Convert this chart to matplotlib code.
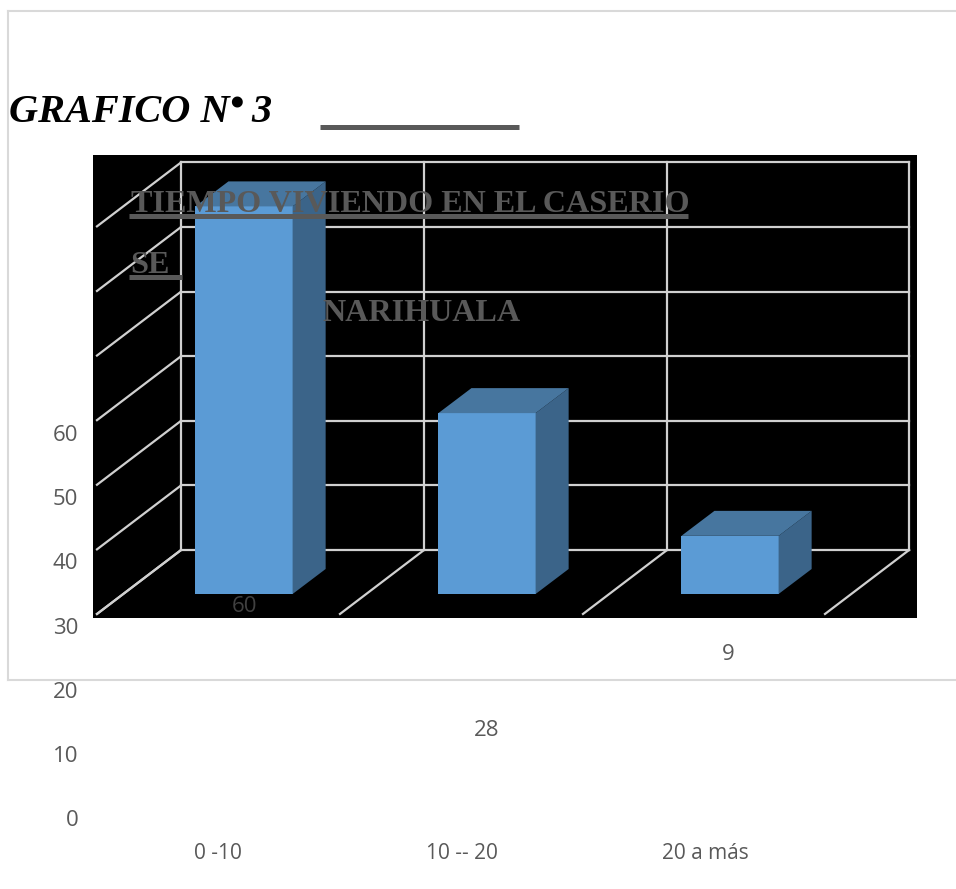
"""Bar chart with a drawn 3D look: time living in the village, on a black plot panel."""
import matplotlib
matplotlib.use("Agg")
import matplotlib.pyplot as plt
from matplotlib.lines import Line2D
from matplotlib.patches import Polygon

WIDTH, HEIGHT = 956, 889

categories = ["0 -10", "10 -- 20", "20 a más"]
values = [60, 28, 9]
y_ticks = [0, 10, 20, 30, 40, 50, 60]
# data labels sit well away from their bars
label_x = [0.107, 1.105, 2.095]
label_y = [33.0, 13.7, 25.5]

FRONT = "#5b9bd5"
SIDE = "#3b6489"
TOP = "#47769f"
GRID = "#d0d0d0"
TEXT_GREY = "#595959"
HEAD_GREY = "#595959"
BORDER = "#d9d9d9"

BAR_HALF = 0.2
BAR_DX, BAR_DY = 0.136, 3.87     # bar depth in (category, value) units
WALL_DX, WALL_DY = 0.346, 9.9    # side wall depth
WALL_X = [-0.259, 0.741, 1.741, 2.737]
WALL_BASE = 6.81                 # back wall floor above the bar floor


def px_rect(x0, y0, x1, y1):
    return [x0 / WIDTH, 1 - y1 / HEIGHT, (x1 - x0) / WIDTH, (y1 - y0) / HEIGHT]


def fx(x):
    return x / WIDTH


def fy(y):
    return 1 - y / HEIGHT


def heading(x, y, s, **kw):
    fig.text(fx(x), fy(y), s, family="Liberation Serif", weight="bold", va="baseline", **kw)


def rule(x0, x1, y):
    fig.add_artist(Line2D([fx(x0), fx(x1)], [fy(y), fy(y)], color=HEAD_GREY, lw=3.6,
                          solid_capstyle="butt", zorder=4))


fig = plt.figure(figsize=(WIDTH / 100, HEIGHT / 100), dpi=100, facecolor="white")

# black panel with the walls and bars
ax = fig.add_axes(px_rect(93, 155, 917, 618), facecolor="black")
ax.set_xlim((93 - 244) / 243, (917 - 244) / 243)
ax.set_ylim((594 - 618) / 6.46, (594 - 155) / 6.46)
ax.set_xticks([])
ax.set_yticks([])
for s in ax.spines.values():
    s.set_visible(False)

for t in y_ticks:
    y = t + WALL_BASE
    ax.plot([WALL_X[0], WALL_X[-1]], [y, y], color=GRID, lw=1.6, zorder=1)
    ax.plot([WALL_X[0] - WALL_DX, WALL_X[0]], [y - WALL_DY, y], color=GRID, lw=1.6, zorder=1)
for x in WALL_X:
    ax.plot([x, x], [WALL_BASE, y_ticks[-1] + WALL_BASE], color=GRID, lw=1.6, zorder=1)
    ax.plot([x - WALL_DX, x], [WALL_BASE - WALL_DY, WALL_BASE], color=GRID, lw=1.6, zorder=1)

positions = list(range(len(values)))
ax.bar(positions, values, width=2 * BAR_HALF, color=FRONT, zorder=3)
for p, v in zip(positions, values):
    l, r = p - BAR_HALF, p + BAR_HALF
    ax.add_patch(Polygon([(r, 0), (r + BAR_DX, BAR_DY), (r + BAR_DX, v + BAR_DY), (r, v)],
                         facecolor=SIDE, edgecolor="none", zorder=3))
    ax.add_patch(Polygon([(l, v), (l + BAR_DX, v + BAR_DY), (r + BAR_DX, v + BAR_DY), (r, v)],
                         facecolor=TOP, edgecolor="none", zorder=3))

# second, transparent axes carries the tick labels and data labels
ax2 = fig.add_axes(px_rect(90, 433, 900, 818), facecolor="none")
ax2.set_xlim((90 - 218) / 243.5, (900 - 218) / 243.5)
ax2.set_ylim(0, 60)
ax2.set_xticks(positions)
ax2.set_xticklabels(categories)
ax2.set_yticks(y_ticks)
ax2.tick_params(length=0, labelcolor=TEXT_GREY)
ax2.tick_params(axis="y", pad=8.5, labelsize=16)
ax2.tick_params(axis="x", pad=18, labelsize=15)
for lab in ax2.get_xticklabels() + ax2.get_yticklabels():
    lab.set_family("Open Sans")
for s in ax2.spines.values():
    s.set_visible(False)
for x, y, v in zip(label_x, label_y, values):
    ax2.text(x, y, str(v), ha="center", va="center", fontsize=16,
             family="Open Sans", color=TEXT_GREY if v != 60 else "#404040")

# page border lines
for xs, ys in [([8, 8], [11, 680]), ([8, 956], [11, 11]), ([8, 956], [680, 680])]:
    fig.add_artist(Line2D([fx(x) for x in xs], [fy(y) for y in ys], color=BORDER, lw=1.5))

# heading text
heading(9, 122, "GRAFICO N", style="italic", fontsize=29, color="black")
heading(229, 116, "•", style="italic", fontsize=29, color="black")
heading(251, 122, "3", style="italic", fontsize=29, color="black")
rule(320, 519, 126.5)

heading(131, 212, "TIEMPO VIVIENDO EN EL CASERIO", fontsize=23.1, color=HEAD_GREY)
rule(129, 688, 215.5)
heading(130, 273, "SE", fontsize=23.1, color=HEAD_GREY)
rule(129, 182, 276.5)
heading(322.5, 321, "NARIHUALA", fontsize=23.1, color=HEAD_GREY)

fig.savefig("out.png", dpi=100, facecolor="white")
